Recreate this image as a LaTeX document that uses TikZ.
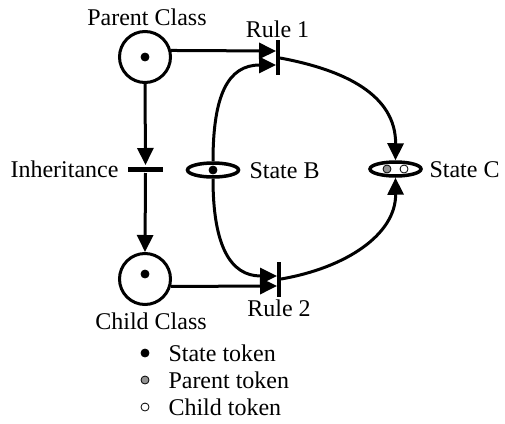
\documentclass[tikz,border=0pt]{standalone}
\usepackage{fontspec}
\setmainfont{Liberation Serif}
\usetikzlibrary{arrows.meta,shapes.geometric}
\begin{document}
\begin{tikzpicture}[x=1pt,y=-1pt,line width=3pt,
  every node/.style={font=\fontsize{24}{28}\selectfont},
  lbl/.style={inner sep=0pt},
  place/.style={circle,draw,line width=3pt,minimum size=51pt,inner sep=0pt},
  oval/.style={ellipse,draw,line width=3.5pt,minimum width=51pt,minimum height=14pt,inner sep=0pt},
  vbar/.style={rectangle,fill=black,minimum width=4pt,minimum height=35pt,inner sep=0pt},
  hbar/.style={rectangle,fill=black,minimum width=35pt,minimum height=5pt,inner sep=0pt},
  tok/.style={circle,draw,line width=0.8pt,minimum size=8pt,inner sep=0pt},
  arr/.style={-{Triangle[length=17pt,width=16pt]}}]
\useasboundingbox (0,0) rectangle (505,423);
% places
\node[place] (parent) at (145,57) {};
\node[place] (child) at (145,279) {};
\node[oval] (sb) at (213,170) {};
\node[oval] (sc) at (395.5,169) {};
% tokens
\node[tok,fill=black] (tp) at (145,57) {};
\node[tok,fill=black] (tc) at (145,274) {};
\node[tok,fill=black] (tb) at (213,170) {};
\node[tok,fill=gray!85] (tcg) at (387,169) {};
\node[tok,fill=white] (tcw) at (404,169) {};
% transitions
\node[hbar] (inh) at (145.5,169) {};
\node[vbar] (r1) at (278,57.5) {};
\node[vbar] (r2) at (279,279.5) {};
% labels
\node[lbl] (lparent) at (147,17.5) {Parent Class};
\node[lbl] (lchild) at (151,321.5) {Child Class};
\node[lbl,anchor=east] (linh) at (120,169.5) {Inheritance};
\node[lbl] (lr1) at (277.5,29.5) {Rule 1};
\node[lbl] (lr2) at (279,308.5) {Rule 2};
\node[lbl,anchor=west] (lsb) at (248,171) {State B};
\node[lbl,anchor=west] (lsc) at (428,169.5) {State C};
% connectors
\draw[arr] (parent.south) -- (inh.north);
\draw[arr] (inh.south) -- (child.north);
\coordinate (p1) at (276,51);
\coordinate (p2) at (276,65);
\coordinate (q1) at (277,286);
\coordinate (q2) at (277,276);
\draw[arr] (parent.14) -- (p1);
\draw[arr] (child.-16) -- (q1);
\draw[arr] (sb.north) .. controls (213,95) and (228,65) .. (p2);
\draw[arr] (sb.south) .. controls (213,245) and (230,276) .. (q2);
\coordinate (r1o) at (280,58);
\coordinate (r2o) at (281,279);
\draw[arr] (r1o) .. controls (345,70) and (396,95) .. (sc.north);
\draw[arr] (r2o) .. controls (345,268) and (396,235) .. (sc.south);
% legend
\node[tok,fill=black] (k1) at (145,353) {};
\node[tok,fill=gray!85] (k2) at (145,380) {};
\node[tok,fill=white] (k3) at (145,407) {};
\node[lbl,anchor=west] (kt1) at (167,353.5) {State token};
\node[lbl,anchor=west] (kt2) at (167,380.5) {Parent token};
\node[lbl,anchor=west] (kt3) at (167,407.5) {Child token};
\end{tikzpicture}
\end{document}
